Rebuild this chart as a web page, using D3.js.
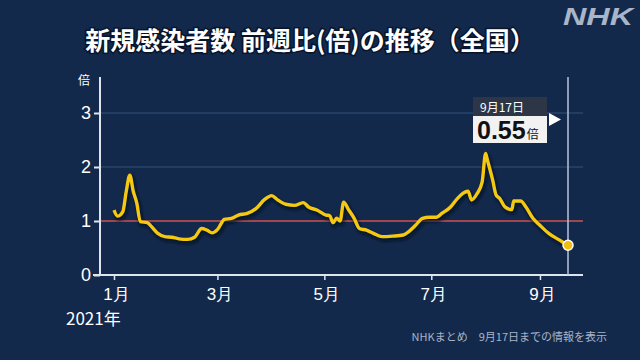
<!DOCTYPE html>
<html><head><meta charset="utf-8">
<script src="https://cdn.jsdelivr.net/npm/d3@7/dist/d3.min.js"></script>
<style>
html,body{margin:0;padding:0;background:#13294b;}
svg{display:block;font-family:"Noto Sans CJK JP","Noto Sans",sans-serif;}
</style></head>
<body><svg id="c" width="640" height="360"></svg>
<script>
const dates = ["2021-01-01","2021-01-03","2021-01-06","2021-01-08","2021-01-10","2021-01-12","2021-01-14","2021-01-16","2021-01-20","2021-01-22","2021-01-26","2021-01-30","2021-02-03","2021-02-07","2021-02-12","2021-02-16","2021-02-20","2021-02-23","2021-02-26","2021-03-01","2021-03-05","2021-03-09","2021-03-13","2021-03-18","2021-03-23","2021-03-28","2021-04-01","2021-04-04","2021-04-09","2021-04-14","2021-04-19","2021-04-22","2021-04-27","2021-05-02","2021-05-04","2021-05-06","2021-05-08","2021-05-10","2021-05-12","2021-05-15","2021-05-18","2021-05-21","2021-05-25","2021-05-29","2021-06-03","2021-06-09","2021-06-15","2021-06-18","2021-06-22","2021-06-26","2021-06-30","2021-07-04","2021-07-07","2021-07-12","2021-07-16","2021-07-19","2021-07-22","2021-07-24","2021-07-27","2021-07-30","2021-08-01","2021-08-02","2021-08-05","2021-08-07","2021-08-09","2021-08-12","2021-08-16","2021-08-17","2021-08-21","2021-08-24","2021-08-28","2021-09-01","2021-09-06","2021-09-12","2021-09-17"];
const ratios = [1.20,1.09,1.17,1.55,1.85,1.55,1.33,0.99,0.97,0.91,0.77,0.71,0.70,0.67,0.66,0.70,0.86,0.83,0.78,0.84,1.03,1.05,1.11,1.14,1.23,1.40,1.47,1.40,1.31,1.29,1.34,1.26,1.20,1.11,1.10,0.97,1.05,1.00,1.35,1.20,1.05,0.86,0.83,0.77,0.71,0.72,0.74,0.80,0.92,1.05,1.07,1.07,1.14,1.26,1.42,1.51,1.55,1.39,1.50,1.72,2.25,2.13,1.76,1.48,1.42,1.26,1.21,1.37,1.37,1.26,1.05,0.92,0.77,0.65,0.55];
const yTicks = [0,1,2,3];
const monthTicks = ["2021-01-01","2021-03-01","2021-05-01","2021-07-01","2021-09-01"];
const monthLabels = ["1月","3月","5月","7月","9月"];
const title = "新規感染者数 前週比(倍)の推移（全国）";
const lastDateLabel = "9月17日";
const lastValueLabel = "0.55";
const footer = "NHKまとめ　9月17日までの情報を表示";

const parse = d3.timeParse("%Y-%m-%d");
const data = dates.map((d,i)=>({date:parse(d), v:ratios[i]}));
const svg = d3.select("#c");
const x = d3.scaleTime().domain([parse("2021-01-01"), parse("2021-09-17")]).range([114, 568]);
const y = d3.scaleLinear().domain([0,3]).range([275, 113]);
const xRight = 583, yLeft = 100;

// title
svg.append("text").attr("x",310).attr("y",50).attr("text-anchor","middle")
  .attr("font-size",25).attr("font-weight","bold").attr("fill","#fff")
  .attr("stroke","#07142a").attr("stroke-width",3).attr("paint-order","stroke")
  .text(title);
// NHK logo
svg.append("text").attr("x",563).attr("y",25).attr("font-family","Liberation Sans, Arial, sans-serif")
  .attr("font-size",24).attr("font-weight","bold").attr("font-style","italic")
  .attr("fill","#a9b5c9").attr("textLength",70).attr("lengthAdjust","spacingAndGlyphs").text("NHK");

// grid lines
svg.append("g").selectAll("line").data(yTicks.filter(t=>t>=2)).join("line")
  .attr("x1",yLeft).attr("x2",xRight).attr("y1",d=>y(d)).attr("y2",d=>y(d))
  .attr("stroke","#34507a").attr("stroke-width",1.2);
svg.append("line").attr("x1",yLeft).attr("x2",xRight).attr("y1",y(1)).attr("y2",y(1))
  .attr("stroke","#d0504f").attr("stroke-width",1.6);

// y axis
const ya = svg.append("g").attr("transform",`translate(${yLeft},0)`)
  .call(d3.axisLeft(y).tickValues(yTicks).tickSize(6).tickPadding(3).tickFormat(d3.format("d")));
ya.select(".domain").remove();
ya.selectAll(".tick line").attr("stroke","#dfe5ee").attr("stroke-width",2);
ya.selectAll(".tick text").attr("fill","#fff").attr("font-size",18)
  .attr("font-family","Liberation Sans, Arial, sans-serif");
svg.append("line").attr("x1",yLeft).attr("x2",yLeft).attr("y1",77).attr("y2",y(0))
  .attr("stroke","#dfe5ee").attr("stroke-width",2);
svg.append("text").attr("x",84).attr("y",85).attr("text-anchor","middle").attr("font-size",12)
  .attr("fill","#fff").text("倍");

// x axis
const xa = svg.append("g").attr("transform",`translate(0,${y(0)})`)
  .call(d3.axisBottom(x).tickValues(monthTicks.map(parse)).tickSize(5).tickPadding(8)
    .tickFormat((d,i)=>monthLabels[i]));
xa.select(".domain").remove();
xa.selectAll(".tick line").attr("stroke","#dfe5ee").attr("stroke-width",1.5);
xa.selectAll(".tick text").attr("fill","#fff").attr("font-size",17).attr("dx",2);
svg.append("line").attr("x1",93).attr("x2",xRight).attr("y1",y(0)).attr("y2",y(0))
  .attr("stroke","#dfe5ee").attr("stroke-width",2);
svg.append("text").attr("x",66).attr("y",325).attr("font-size",17).attr("fill","#fff").text("2021年");

// vertical marker line
const last = data[data.length-1];
svg.append("line").attr("x1",x(last.date)).attr("x2",x(last.date)).attr("y1",77).attr("y2",y(0))
  .attr("stroke","#b9c5d8").attr("stroke-width",1.5);

// line shadow + line
const defs = svg.append("defs");
defs.append("filter").attr("id","blur").append("feGaussianBlur").attr("stdDeviation",1.5);
const line = d3.line().x(d=>x(d.date)).y(d=>y(d.v)).curve(d3.curveMonotoneX);
svg.append("path").datum(data).attr("d",line).attr("fill","none")
  .attr("stroke","#050d1c").attr("stroke-opacity",0.7).attr("stroke-width",5)
  .attr("transform","translate(1.5,2.5)").attr("filter","url(#blur)");
svg.append("path").datum(data).attr("d",line).attr("fill","none")
  .attr("stroke","#f5c814").attr("stroke-width",3.4).attr("stroke-linejoin","round");

// end dot
svg.append("circle").attr("cx",x(last.date)).attr("cy",y(last.v)).attr("r",5)
  .attr("fill","#f2bd10").attr("stroke","#fff").attr("stroke-width",1.5);

// annotation
const ax = 473;
svg.append("rect").attr("x",ax).attr("y",97).attr("width",74).attr("height",19).attr("fill","#2c3647");
svg.append("text").attr("x",480).attr("y",112).attr("font-size",12).attr("fill","#fff").text(lastDateLabel);
svg.append("rect").attr("x",ax).attr("y",116).attr("width",74).attr("height",27).attr("fill","#f2f2f2");
const vt = svg.append("text").attr("x",477).attr("y",139).attr("fill","#111")
  .attr("font-family","Liberation Sans, Arial, sans-serif");
vt.append("tspan").attr("font-size",25).attr("font-weight","bold").text(lastValueLabel);
vt.append("tspan").attr("font-size",12).attr("font-family","Noto Sans CJK JP").attr("dx",1).text("倍");
svg.append("path").attr("d","M549,113L561,119.5L549,126Z").attr("fill","#fff");

// footer
svg.append("text").attr("x",607).attr("y",341).attr("text-anchor","end").attr("font-size",11)
  .attr("fill","#aab4c6").text(footer);
</script></body></html>
